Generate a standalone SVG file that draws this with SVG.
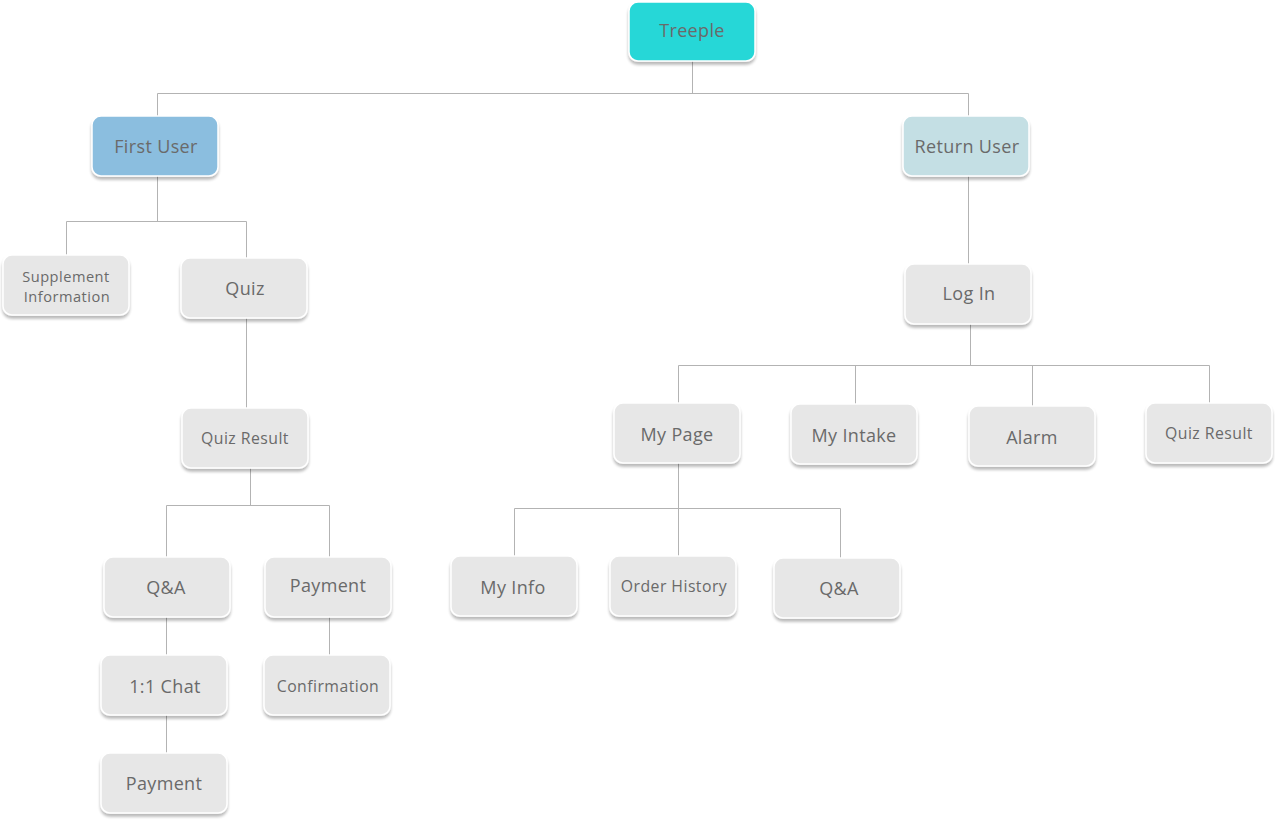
<svg xmlns="http://www.w3.org/2000/svg" width="1275" height="820" viewBox="0 0 1275 820">
  <defs>
    <filter id="shadow" x="-10%" y="-10%" width="120%" height="140%">
      <feGaussianBlur in="SourceAlpha" stdDeviation="1.8"/>
      <feOffset dx="0" dy="3" result="b"/>
      <feComponentTransfer><feFuncA type="linear" slope="0.28"/></feComponentTransfer>
      <feMerge><feMergeNode/><feMergeNode in="SourceGraphic"/></feMerge>
    </filter>
    <style>
      .box { fill: #e7e7e7; stroke: #ffffff; stroke-width: 1.5; filter: url(#shadow); }
      .root { fill: #27d7d7; }
      .first { fill: #8bbedf; }
      .ret { fill: #c4dfe4; }
      .lbl { font-family: "Open Sans", "Noto Sans", "Liberation Sans", sans-serif; fill: #6a6a6a; text-anchor: middle; dominant-baseline: central; }
      .lg { font-size: 18px; letter-spacing: 0.35px; }
      .sm { font-size: 15.8px; letter-spacing: 0.45px; }
      .two { font-size: 14.6px; letter-spacing: 0.5px; }
      .edges { fill: none; stroke: #b3b3b3; stroke-width: 1; }
    </style>
  </defs>
  <rect width="1275" height="820" fill="#ffffff"/>

  <!-- connectors -->
  <g id="connectors" class="edges">
    <path d="M692.5 61V93.5M157.5 93.5H968.5M157.5 93.5V116M968.5 93.5V116"/>
    <path d="M157.5 176V221.5M66.5 221.5H246.5M66.5 221.5V255M246.5 221.5V258"/>
    <path d="M246.5 318V408"/>
    <path d="M250.5 468V505.5M166.5 505.5H329.5M166.5 505.5V557M329.5 505.5V557"/>
    <path d="M166.5 617V655M329.5 617V655M166.5 715V753"/>
    <path d="M968.5 176V264"/>
    <path d="M970.5 324V365.5M678.5 365.5H1209.5M678.5 365.5V403M855.5 365.5V404M1032.5 365.5V406M1209.5 365.5V403"/>
    <path d="M678.5 463V508.5M514.5 508.5H840.5M514.5 508.5V556M678.5 508.5V556M840.5 508.5V558"/>
  </g>

  <g id="n-treeple"><rect class="box root" x="629" y="2" width="126" height="59" rx="9"/><text class="lbl lg" x="692" y="30">Treeple</text></g>
  <g id="n-first-user"><rect class="box first" x="92" y="116" width="126" height="60" rx="9"/><text class="lbl lg" x="156" y="146">First User</text></g>
  <g id="n-return-user"><rect class="box ret" x="903" y="116" width="126" height="60" rx="9"/><text class="lbl lg" x="967" y="146">Return User</text></g>

  <g id="n-supplement"><rect class="box" x="3" y="255" width="126" height="60" rx="9"/><text class="lbl two" x="66" y="276">Supplement</text><text class="lbl two" x="67" y="296">Information</text></g>
  <g id="n-quiz"><rect class="box" x="181" y="258" width="126" height="60" rx="9"/><text class="lbl lg" x="245" y="288">Quiz</text></g>
  <g id="n-quiz-result"><rect class="box" x="182" y="408" width="126" height="60" rx="9"/><text class="lbl sm" x="245" y="438">Quiz Result</text></g>
  <g id="n-qa-left"><rect class="box" x="104" y="557" width="126" height="60" rx="9"/><text class="lbl lg" x="166" y="587">Q&amp;A</text></g>
  <g id="n-payment-a"><rect class="box" x="265" y="557" width="126" height="60" rx="9"/><text class="lbl lg" x="328" y="585">Payment</text></g>
  <g id="n-chat"><rect class="box" x="101" y="655" width="126" height="60" rx="9"/><text class="lbl lg" x="165" y="686">1:1 Chat</text></g>
  <g id="n-confirmation"><rect class="box" x="264" y="655" width="126" height="60" rx="9"/><text class="lbl sm" x="328" y="686">Confirmation</text></g>
  <g id="n-payment-b"><rect class="box" x="101" y="753" width="126" height="60" rx="9"/><text class="lbl lg" x="164" y="783">Payment</text></g>

  <g id="n-login"><rect class="box" x="905" y="264" width="126" height="60" rx="9"/><text class="lbl lg" x="969" y="293">Log In</text></g>
  <g id="n-my-page"><rect class="box" x="614" y="403" width="126" height="60" rx="9"/><text class="lbl lg" x="677" y="434">My Page</text></g>
  <g id="n-my-intake"><rect class="box" x="791" y="404" width="126" height="60" rx="9"/><text class="lbl lg" x="854" y="435">My Intake</text></g>
  <g id="n-alarm"><rect class="box" x="969" y="406" width="126" height="60" rx="9"/><text class="lbl lg" x="1032" y="437">Alarm</text></g>
  <g id="n-quiz-result-r"><rect class="box" x="1146" y="403" width="126" height="60" rx="9"/><text class="lbl sm" x="1209" y="433">Quiz Result</text></g>

  <g id="n-my-info"><rect class="box" x="451" y="556" width="126" height="60" rx="9"/><text class="lbl lg" x="513" y="587">My Info</text></g>
  <g id="n-order-history"><rect class="box" x="610" y="556" width="126" height="60" rx="9"/><text class="lbl sm" x="674" y="586">Order History</text></g>
  <g id="n-qa-right"><rect class="box" x="774" y="558" width="126" height="60" rx="9"/><text class="lbl lg" x="839" y="588">Q&amp;A</text></g>
</svg>
